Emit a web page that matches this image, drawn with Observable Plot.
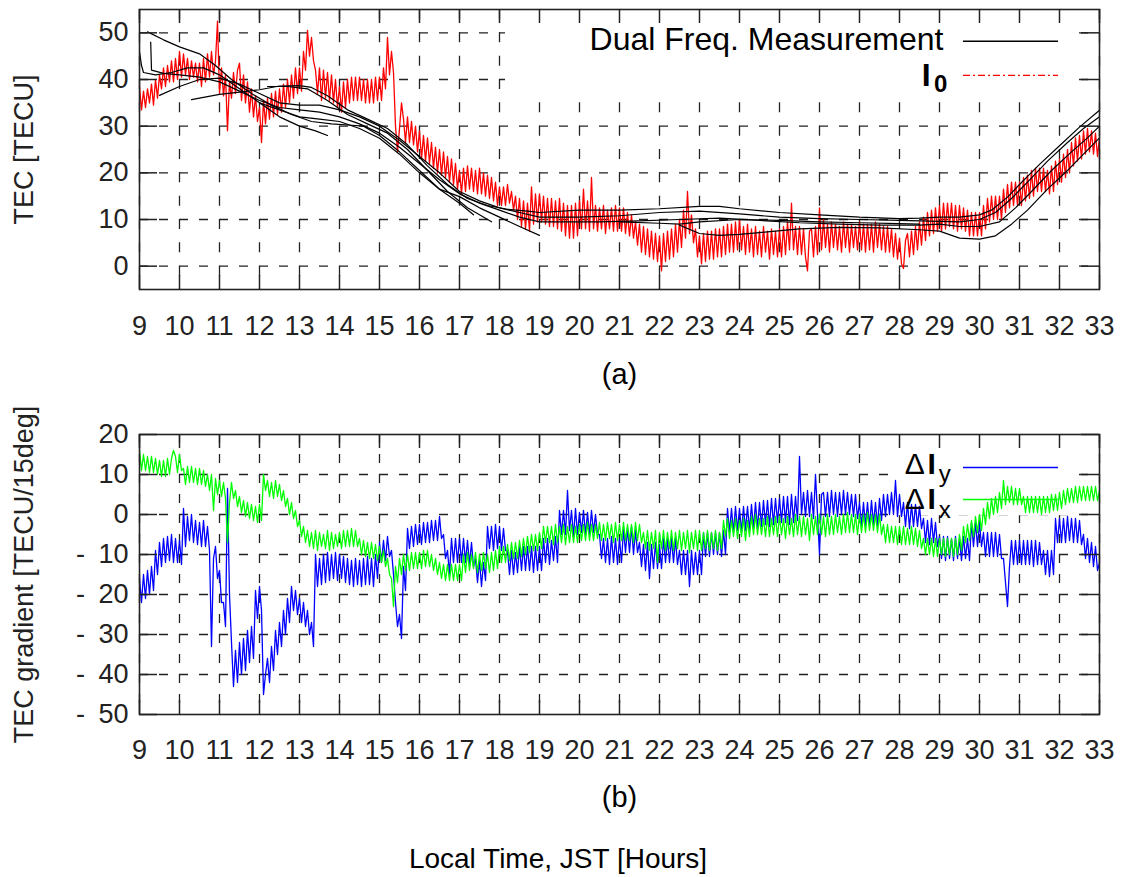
<!DOCTYPE html>
<html><head><meta charset="utf-8">
<script src="https://cdn.jsdelivr.net/npm/d3@7"></script>
<script src="https://cdn.jsdelivr.net/npm/@observablehq/plot@0.6"></script>
<style>body{margin:0;background:#fff}#chart svg{display:block}</style>
</head><body><div id="chart"></div>
<script>
// ---- tick labels ----
const hourTicks = [9,10,11,12,13,14,15,16,17,18,19,20,21,22,23,24,25,26,27,28,29,30,31,32,33];
const tecTicks = [0,10,20,30,40,50];
const gradTicks = [-50,-40,-30,-20,-10,0,10,20];

// ---- sampled series: one value every 0.05 h from 09:00 (one row per hour) ----
const sampleStart = 9, sampleStep = 0.05;
const i0Values = [
38.5,33.5,37.5,34,38,35,39,34.5,40,36,41,38,42.5,38.5,43,39.5,44,39.5,44.5,40,
46,40.5,45.5,41,44.5,40,44,40.5,43.5,39.5,43.5,38.5,44.5,39.5,45.5,40.5,46,41,44,52.5,
37,42.5,36.5,41,29,39.5,36,41.5,37,42,43.5,35.5,41,35,39.5,33,38,32,36.5,31,
34,26.5,35.5,30.5,36,31.5,37,32,37.5,32.5,38,33,39,34,40,35,41,36,42.5,37,
42.5,37.5,46,42,50.5,45,49,44,42,37,42.5,35.5,42,36,41.5,35.5,41,35,40,34,
38.5,33,39.5,34,40,35,40.5,35.5,40.5,35.5,40.5,35.5,40,35,40,35,40,35,40.5,35.5,
40.5,35.5,42.5,38,49,41,46,41.5,30,24.5,29.5,35,31.5,26.5,32,26.5,31,26,30,24.5,
29,23,28,22.5,27.5,22,26.5,21,25.5,20,25,19.5,24.5,19,23.5,18,23,17.5,22,16.5,
20.5,15.5,21,16,21.5,16.5,21,16,20.5,15.5,21,15.5,20,15,19.5,14.5,19,14,18,13,
17,13,17,13,17.5,13.5,16,12,15,10,14.5,8.5,14,8,13.5,7.5,17,9,15.5,9.5,
15.5,9.5,15,9,14.5,8.5,14.5,8.5,14,8,14.5,7.5,13.5,6.5,13,6,13,6,13.5,6.5,
14,8,16.5,8,14,7.5,19,8,13,7.5,12.5,8,13,7,12,8,12.5,7.5,13,7.5,
12.5,7.5,12.5,7,11.5,6.5,11,6,9.5,4.5,9,3,8.5,2.5,8,2,7.5,1.5,7,1,
6.5,-1,7,1,7.5,1.5,8,2,9,3,10,4,12,6,16,7,11,5,8,2,
6.5,0.5,7,1,7.5,1.5,7.5,1.5,8,2,8,2,8.5,2.5,9,3,9,3,9.5,3.5,
10,3.5,8.5,2.5,9,3,8,2,8.5,2.5,7.5,2,8.5,3,7.5,1.5,8,2.5,7.5,2,
8,2,8.5,2.5,9.5,3.5,13.5,3.5,8.5,2.5,8.5,2.5,8,2,-1,7.5,8,2,8.5,2.5,
12.5,3.5,10,4,9,3,9.5,4,9,3.5,8.5,3,9.5,4,9,3,9,4,8.5,3.5,
9.5,3.5,9,3,9,3.5,9,3,9.5,4,9,3.5,8.5,3,8.5,3,8,2,7,1.5,
6,0.5,-0.5,5.5,7,2,7.5,2.5,8.5,3.5,9.5,4.5,10.5,5.5,11.5,6.5,12,7,12.5,7.5,
13,7.5,13.5,8,13.5,8.5,13.5,8,13,7.5,13,8,12.5,7.5,12,6.5,11.5,6.5,11.5,6.5,
11.5,6.5,13,8,14.5,9.5,15,10,15,10,15,10,16.5,11.5,17.5,12.5,18,13,18,13,
18,13,19,14,19.5,14.5,20.5,15,21,16,21,16,21,16,20.5,15.5,21.5,16,22.5,17.5,
23,18,24,19,25,20,26.5,21.5,27.5,22.5,28,23,29,24,29.5,24.5,29,24,28.5,23.5,
27.5];
const dIyValues = [
-16,-22,-15,-21,-14,-20,-13,-19,-9,-15,-7,-13,-6,-12,-5.5,-11.5,-5,-12,-6,-12,
-6.5,-12.5,1.5,-8,-0.5,-6.5,0,-7,-1.5,-7.5,-2,-8,-1.5,-8,-3,-9,-33,-11,-8,-16,
-14,-22,-22,-28,6.5,-20,-32,-43,-34,-42,-32,-40,-31,-39,-29,-37,-28,-36,-19,-26,
-18,-24,-45,-40,-36,-42,-33,-39,-29,-35,-27,-33,-24,-30,-21,-27,-18,-24,-19,-25,
-21,-27,-22,-28,-24,-30,-27,-33,-10,-18,-11,-17.5,-10,-17,-9.5,-16.5,-10,-16,-9.5,-16.5,
-10,-16,-10.5,-17,-11,-17.5,-11.5,-18,-11,-17.5,-11.5,-18,-11,-17.5,-10.5,-17.5,-11,-18,-10,-16,
-7,-12,-6.5,-11.5,-5.5,-10.5,-9,-15,-22,-28,-25,-31,-13,-19,-3.5,-8.5,-3,-8,-2.5,-7.5,
-2.5,-7.5,-2,-7,-2,-7,-1.5,-6.5,-1.5,-6.5,-0.5,-6,-5,-11,-9,-15,-6,-12,-6,-12,
-6,-12,-6,-12,-6.5,-12.5,-7,-13,-11,-17,-11.5,-18,-12,-16.5,-3,-8.5,-3,-9,-2.5,-8.5,
-3,-9,-3.5,-9,-9,-15,-9,-15,-9.5,-14.5,-8,-14,-8,-14,-8,-14,-8,-14.5,-8,-14,
-8,-14,-6,-12,-6,-12.5,-6.5,-11.5,-5.5,-12,1,-5,1,-5,6,-4,1,-5.5,1.5,-5,
0.5,-4.5,1,-5,0.5,-5,1,-4.5,0,-5,-5,-11,-6,-12,-6,-12.5,-5.5,-12,-6,-12.5,
-6,-12,-3.5,-9.5,-3.5,-9.5,-3,-10,-4,-9.5,-7,-13,-7.5,-14,-7,-16,-7.5,-13.5,-7,-13.5,
-7.5,-13.5,-6,-12,-6,-12,-6,-12,-6,-12.5,-9,-15,-9,-15,-9,-18,-9,-15,-9.5,-15,
-9,-15,-4.5,-10.5,-4.5,-10.5,-4.5,-10,-4.5,-10,-4.5,-10.5,-4,-10,1.5,-4.5,1.5,-4.5,2,-4,
1.5,-4.5,2,-4,2,-4,2.5,-3.5,3,-3.5,3,-3,3.5,-2.5,3.5,-3,4,-2.5,4,-2,
4,-2,4.5,-2,4.5,-2.5,5,-2,4.5,-1.5,14.5,0,5.5,-0.5,6,-0.5,5.5,-1,10,0,
-10,5,5.5,-0.5,5.5,-0.5,6,0,5.5,-0.5,5.5,0,6,0,5.5,0,5,-0.5,5,-1,
3,-3,3,-3,3,-3,3.5,-2.5,3,-3,4,-1.5,5,-0.5,5,0,5.5,0,8.5,-0.5,
5,-0.5,3,-3,3,-3.5,2.5,-3,2.5,-3,2,-3.5,-1,-7,-1.5,-7.5,-1,-7,-2,-8,
-5.5,-11,-5.5,-11.5,-5.5,-11,-6,-11.5,-5.5,-11,-6,-11.5,-5.5,-11,-6,-11.5,-2,-8,-2,-8,
-2,-8,-4.5,-10.5,-4.5,-10.5,-4.5,-10.5,-4.5,-10.5,-5,-11,-11,-17,-23,-13,-6.5,-12.5,-6.5,-12.5,
-6.5,-12.5,-6.5,-12.5,-6.5,-12.5,-6.5,-13,-6.5,-12.5,-7,-12.5,-9,-15,-9,-15.5,-9,-15,-1,-7,
-1,-7,-1,-7,-0.5,-6.5,-1,-7,-1,-7,-1.5,-7.5,-5,-11,-6,-12,-7,-13,-8,-14,
-12];
const dIxValues = [
16,11,15,11,14.5,10.5,14.5,10.5,14,10,13.5,9.5,13.5,9.5,14,10,14,16,14.5,10.5,
15,11,11.5,7.5,12,8,12,8,11.5,7.5,11.5,7.5,11,7,10,6,10,1,9,5,
8.5,4.5,8,4,-7,3,8,4,6,2,4.5,0.5,3.5,-0.5,3,-1,2.5,-1.5,2,-2,
2.5,-1.5,10,6,8.5,4.5,8,4,8.5,4.5,7.5,3.5,6,2,4,0,3,-1,1,-3,
-1.5,-5.5,-3,-7,-4,-8,-4.5,-8.5,-4,-9,-4.5,-8,-5,-8.5,-4,-9,-4.5,-8.5,-5,-8,
-4.5,-8.5,-4,-8,-4,-8,-3.5,-8,-4,-8,-6,-10,-6.5,-10.5,-7,-11,-7,-11,-7.5,-11.5,
-8,-12,-9,-13,-11,-15,-16,-23,-13,-17,-11,-15,-10,-14,-10,-14,-9.5,-13.5,-9.5,-13.5,
-9.5,-13.5,-9,-13,-9,-13,-10,-14,-11,-15,-12,-16,-12.5,-16.5,-12.5,-16.5,-12.5,-16.5,-12.5,-16.5,
-12.5,-16.5,-10,-14.5,-9.5,-14,-10,-13.5,-9.5,-14.5,-10,-14,-9.5,-13.5,-10,-14.5,-9.5,-14,-9,-13.5,
-8,-12,-8,-12,-7.5,-11.5,-7,-11,-7,-11,-6.5,-10.5,-6,-10,-5.5,-9.5,-5,-9,-5,-9,
-4.5,-8.5,-3,-7,-3,-7,-3,-7.5,-2.5,-7,-3,-7,-2.5,-7.5,-3,-7,-2.5,-7,-3,-7,
-2.5,-6.5,-2.5,-6.5,-2,-6.5,-2.5,-6.5,-2.5,-6,-2,-6.5,-2.5,-6.5,-2,-6,-2.5,-7,-2,-6.5,
-2.5,-6.5,-2,-6.5,-2.5,-6.5,-2.5,-7,-2,-6.5,-2.5,-7,-4.5,-8.5,-4,-9,-4.5,-8.5,-4,-12,
-4.5,-8.5,-4,-9,-4.5,-8.5,-4,-9,-4.5,-8.5,-4,-9,-4.5,-8.5,-4,-9.5,-4.5,-8.5,-4,-9,
-4,-9,-4.5,-8.5,-4,-9,-4.5,-8.5,-4,-9,-4.5,-8.5,-1.5,-5.5,-1,-6,-1.5,-5.5,-1,-6,
-1.5,-5.5,-1,-6.5,-1.5,-5.5,-0.5,-5,0,-5,-1,-5,-1,-5.5,-0.5,-5.5,-1,-5,-0.5,-5.5,
-0.5,-5,-1,-6,-0.5,-5,-1,-5.5,0,-5,-0.5,-5.5,-0.5,-5,-1,-6.5,0,-5,-0.5,-5,
0,-5,-0.5,-5.5,0,-5,-0.5,-5,0,-4.5,-0.5,-5,0,-4.5,0.5,-4.5,0,-4.5,0,-5,
0,-4.5,0,-4.5,0.5,-4,0,-4,0,-4.5,0,-5,-2.5,-7,-2.5,-7,-3,-7,-3,-7.5,
-3,-7.5,-3,-7.5,-3.5,-7.5,-3,-7.5,-3.5,-8,-4,-8.5,-6,-10,-6,-10,-6,-10.5,-6,-10.5,
-6,-10,-6,-10.5,-6,-10,-6,-10.5,-6,-10,-5,-9,-3,-7,-2.5,-6.5,-1.5,-5.5,-0.5,-4.5,
0,-4,1.5,-2.5,3,-1,4,0,4.5,0.5,5.5,1.5,8.5,2.5,7,3,7,2.5,6.5,2.5,
6.5,2.5,4.5,0.5,4.5,0.5,4.5,0.5,4.5,0.5,4.5,0,4.5,0.5,4.5,0.5,5,1,5,1,
5.5,1.5,6,2.5,6.5,3,6.5,3,7,3,7,3.5,7,3.5,7,3.5,7,3.5,7,3.5,
6];

// ---- dual-frequency TEC arcs [hour, TEC] ----
const arc1 = [[9,46],[9.05,43],[9.1,41.5],[9.4,41],[9.8,41.5],[10.2,42.5],[10.6,42.5],[11,41],[11.5,38],[12,35],[12.5,32],[13,30],[13.4,29],[13.7,28]];
const arc2 = [[9.2,50.2],[9.6,48.5],[10,47],[10.5,45.5],[10.9,43],[11.3,40],[11.8,37],[12.3,34.5],[12.8,32.5],[13.3,31],[13.8,30.5],[14.3,30.2],[14.6,30],[15,28],[15.5,24.5],[16,20.5],[16.5,16.5],[17,13.5],[17.35,11]];
const arc3 = [[9.28,48],[9.3,42],[9.6,41.3],[10,41],[10.5,40.5],[11,39.5],[11.5,37.5],[12,35.5],[12.5,34],[13,33.5],[13.5,33],[14,32],[14.5,30.5],[15,28.5],[15.5,25.5],[16,22],[16.5,18.5],[17,15.5],[17.5,13.5],[18,12],[18.5,10.5],[19,9.5],[19.5,9.5],[20.5,9.5],[21.5,9.7],[22.5,10],[23.5,10.3],[24.5,9.8],[25.5,9.3],[26.5,9],[27.5,8.8],[28.5,8.8],[29,9],[29.5,8.5],[30,8.5],[30.5,9.5],[30.9,12.5],[31.3,16],[31.8,20.5],[32.3,24.5],[32.7,27.5],[33,30]];
const arc4 = [[9.5,36.6],[10,38.5],[10.5,40],[11,40.3],[11.5,39],[12,37],[12.5,35],[13,34.5],[13.5,34.5],[14,33.5],[14.5,32],[15,30],[15.5,27],[16,23.5],[16.5,20],[17,16],[17.5,14],[18,12.5],[18.5,11.5],[19,10.5],[20,10.5],[21,10.8],[22,11.5],[23,11.8],[24,11.2],[25,10.5],[26,10.2],[27,10],[28,9.8],[29,9.6],[29.5,9.5],[30,10],[30.4,11.5],[30.8,14.5],[31.2,18],[31.7,22.5],[32.2,26.5],[32.6,29.5],[33,32]];
const arc5 = [[10.3,35.7],[11,36.8],[11.5,37.3],[12,37.8],[12.5,38.6],[13,38.7],[13.3,38.3],[13.7,36.5],[14.2,33.5],[14.7,31.5],[15.2,29.5],[15.7,26],[16.2,21.5],[16.7,17.5],[17.2,14.5],[17.7,13],[18.2,12.2],[18.7,11.8],[19,11.5],[20,12],[21,12],[22,12.3],[23,12.8],[23.5,12.8],[24,12.3],[25,11.5],[26,11],[27,10.5],[28,10.2],[28.5,10.3],[29,10.5],[29.5,10.5],[30,11],[30.3,12],[30.7,14.8],[31,17.5],[31.5,21.8],[32,25.8],[32.5,29.8],[33,33.4]];
const arc6 = [[12,35],[12.5,33.5],[13,32],[13.5,31.5],[14,31],[14.5,29.5],[15,27.4],[15.5,24],[16,20],[16.5,16.5],[17,14.9],[17.5,12.5],[18,10.5],[18.5,8.5],[19,6.6]];
const arc7 = [[12.2,38.5],[12.7,38.5],[13.2,38],[13.7,35.5],[14.2,32.5],[14.7,30.5],[15.2,28.5],[15.7,25],[16.2,20.5],[16.7,16],[17.2,12.5],[17.8,9.5]];
const arc8 = [[22.5,8.8],[23,7],[23.5,6.6],[24,6.8],[24.5,7.2],[25.5,8],[26.5,8.3],[27.5,8.2],[28.5,7.8],[29,7.5],[29.5,6],[30,5.8],[30.4,6.5],[30.8,9],[31.2,12],[31.7,16.5],[32.2,20.5],[32.6,24],[33,27.5]];
const arc9 = [[21,9.5],[22,9.2],[22.5,9],[23,9.5],[24,10],[25,9.8],[26,9.5],[27,9.3],[28,9.1],[28.5,9]];
const arcs = [arc1,arc2,arc3,arc4,arc5,arc6,arc7,arc8,arc9];

// ---- build tables ----
const toRows = vals => vals.map((v, i) => ({h: +(sampleStart + i * sampleStep).toFixed(2), v}));
const i0 = toRows(i0Values), dIy = toRows(dIyValues), dIx = toRows(dIxValues);

const font = "'Liberation Sans', Arial, Helvetica, sans-serif";
const ink = "#222";
const baseStyle = {fontFamily: font, fontSize: "27px", color: ink, background: "white", overflow: "visible"};
const gridOpts = (dash) => ({stroke: ink, strokeWidth: 1.3, strokeDasharray: dash});
const tickOpts = {stroke: ink, strokeWidth: 1.5};
const T = d => d;

const p1 = Plot.plot({
  width: 1122, height: 395,
  marginLeft: 139, marginRight: 23, marginTop: 9, marginBottom: 106,
  style: baseStyle,
  x: {domain: [9, 33]},
  y: {domain: [-5, 55]},
  marks: [
    Plot.ruleY(tecTicks, gridOpts("9,11")),
    Plot.ruleX(hourTicks, gridOpts("10,13.33")),
    Plot.rect([0], {x1: 18.15, x2: 32.475, y1: 55, y2: 37.6, fill: "white"}),
    Plot.line(i0, {x: "h", y: "v", stroke: "#ff0000", strokeWidth: 1.3}),
    ...arcs.map(a => Plot.line(a, {x: d => d[0], y: d => d[1], stroke: "black", strokeWidth: 1.2})),
    Plot.frame({stroke: ink, strokeWidth: 1.6}),
    Plot.ruleX(hourTicks, {...tickOpts, y1: 55, y2: 52}),
    Plot.ruleX(hourTicks, {...tickOpts, y1: -5, y2: -2}),
    Plot.ruleY(tecTicks, {...tickOpts, x1: 9, x2: 9.45}),
    Plot.ruleY(tecTicks, {...tickOpts, x1: 32.55, x2: 33}),
    Plot.axisX(hourTicks, {tickSize: 0, tickPadding: 26, label: null}),
    Plot.axisY(tecTicks, {tickSize: 0, tickPadding: 11, label: null}),
    // legend
    Plot.text(["Dual Freq. Measurement"], {x: 29.1, y: 46.3, text: T, textAnchor: "end", lineAnchor: "bottom", fontSize: 32, fill: "black"}),
    Plot.ruleY([48.2], {x1: 29.6, x2: 31.975, stroke: "black", strokeWidth: 1.3}),
    Plot.text(["I"], {x: 28.78, y: 38.6, text: T, textAnchor: "end", lineAnchor: "bottom", fontSize: 32, fontWeight: "bold", fill: "black"}),
    Plot.text(["0"], {x: 28.86, y: 37.3, text: T, textAnchor: "start", lineAnchor: "bottom", fontSize: 24, fontWeight: "bold", fill: "black"}),
    Plot.ruleY([40.9], {x1: 29.6, x2: 31.975, stroke: "#ff0000", strokeWidth: 1.3, strokeDasharray: "7,3,2,3"}),
    // titles
    Plot.text(["TEC [TECU]"], {frameAnchor: "left", text: T, rotate: -90, dx: -115, textAnchor: "middle", fontSize: 27, fill: ink}),
    Plot.text(["(a)"], {frameAnchor: "bottom", text: T, dy: 94, lineAnchor: "bottom", fontSize: 29, fill: "black"})
  ]
});

const gradFmt = d => d < 0 ? "-\u2002" + Math.abs(d) : String(d);
const p2 = Plot.plot({
  width: 1122, height: 482,
  marginLeft: 139, marginRight: 23, marginTop: 39, marginBottom: 163,
  style: baseStyle,
  x: {domain: [9, 33]},
  y: {domain: [-50, 20]},
  marks: [
    Plot.ruleY(gradTicks.filter(d => d > -50 && d < 20), gridOpts("9,11")),
    Plot.ruleX(hourTicks, gridOpts("9,11")),
    Plot.rect([0], {x1: 27.975, x2: 32.475, y1: 20, y2: -0.3, fill: "white"}),
    Plot.ruleY([11.75], {x1: 29.6, x2: 31.975, stroke: "#0000ff", strokeWidth: 1.5}),
    Plot.ruleY([3.75], {x1: 29.6, x2: 31.975, stroke: "#00ff00", strokeWidth: 1.5}),
    Plot.line(dIy, {x: "h", y: "v", stroke: "#0000ff", strokeWidth: 1.3}),
    Plot.line(dIx, {x: "h", y: "v", stroke: "#00ff00", strokeWidth: 1.3}),
    Plot.frame({stroke: ink, strokeWidth: 1.6}),
    Plot.ruleX(hourTicks, {...tickOpts, y1: 20, y2: 16.5}),
    Plot.ruleX(hourTicks, {...tickOpts, y1: -50, y2: -46.5}),
    Plot.ruleY(gradTicks, {...tickOpts, x1: 9, x2: 9.45}),
    Plot.ruleY(gradTicks, {...tickOpts, x1: 32.55, x2: 33}),
    Plot.axisX(hourTicks, {tickSize: 0, tickPadding: 25, label: null}),
    Plot.axisY(gradTicks, {tickSize: 0, tickPadding: 11, label: null, tickFormat: gradFmt}),
    // legend
    Plot.text(["Δ"], {x: 28.63, y: 10.25, text: T, textAnchor: "end", lineAnchor: "bottom", fontSize: 30, fill: "black"}),
    Plot.text(["I"], {x: 28.7, y: 10.25, text: T, textAnchor: "start", lineAnchor: "bottom", fontSize: 30, fontWeight: "bold", fill: "black"}),
    Plot.text(["y"], {x: 28.98, y: 8.2, text: T, textAnchor: "start", lineAnchor: "bottom", fontSize: 24, fill: "black"}),
    Plot.text(["Δ"], {x: 28.63, y: 1.5, text: T, textAnchor: "end", lineAnchor: "bottom", fontSize: 30, fill: "black"}),
    Plot.text(["I"], {x: 28.7, y: 1.5, text: T, textAnchor: "start", lineAnchor: "bottom", fontSize: 30, fontWeight: "bold", fill: "black"}),
    Plot.text(["x"], {x: 28.98, y: -0.75, text: T, textAnchor: "start", lineAnchor: "bottom", fontSize: 24, fill: "black"}),
    // titles
    Plot.text(["TEC gradient [TECU/15deg]"], {frameAnchor: "left", text: T, rotate: -90, dx: -115, textAnchor: "middle", fontSize: 27, fill: ink}),
    Plot.text(["(b)"], {frameAnchor: "bottom", text: T, dy: 92, lineAnchor: "bottom", fontSize: 29, fill: "black"}),
    Plot.text(["Local Time, JST [Hours]"], {frameAnchor: "bottom", text: T, dx: -61.5, dy: 153, lineAnchor: "bottom", fontSize: 28, fill: "black"})
  ]
});

document.getElementById("chart").append(p1, p2);
</script>
</body></html>
